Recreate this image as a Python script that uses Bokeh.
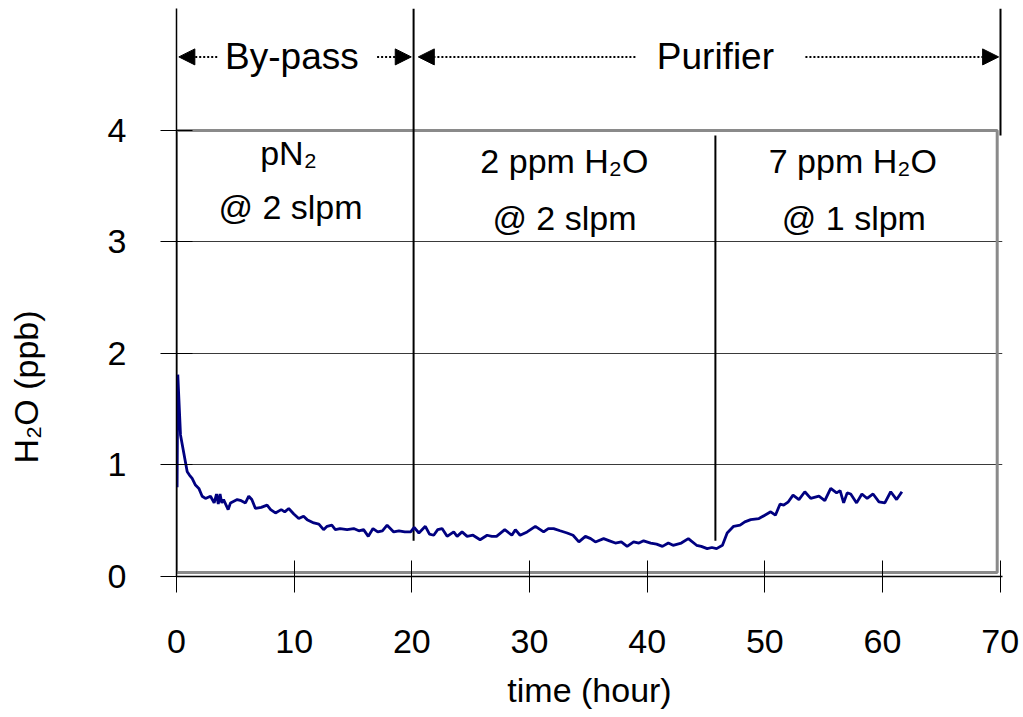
from bokeh.plotting import figure
from bokeh.models import Range1d, FixedTicker, Arrow, NormalHead, Title, ColumnDataSource
from bokeh.core.properties import value
from bokeh.embed import file_html
from bokeh.resources import INLINE

# ---------------- data ----------------
time_h = [0.05, 0.11, 0.34, 0.91, 1.1, 1.33, 1.61, 1.9, 2.18, 2.46, 2.89, 3.2, 3.4, 3.55, 3.7, 3.85,
          4.0, 4.39, 4.59, 5.16, 5.5, 5.86, 6.14, 6.4, 6.71, 7.2, 7.7, 8.0, 8.41, 8.9, 9.2, 9.54,
          9.97, 10.39, 10.8, 11.1, 11.67, 12.1, 12.5, 12.8, 13.2, 13.5, 13.9, 14.5, 15.06, 15.5,
          15.9, 16.3, 16.7, 17.1, 17.5, 17.9, 18.46, 18.9, 19.4, 19.9, 20.2, 20.6, 21.15, 21.5,
          21.86, 22.2, 22.57, 23.0, 23.56, 23.85, 24.27, 24.7, 25.2, 25.8, 26.4, 26.8, 27.2, 27.9,
          28.5, 28.8, 29.2, 29.8, 30.5, 31.2, 31.6, 32.05, 32.6, 33.2, 33.7, 34.2, 34.75, 35.2,
          35.6, 36.3, 36.8, 37.3, 37.8, 38.3, 38.85, 39.3, 39.7, 40.3, 40.8, 41.3, 41.8, 42.2,
          42.9, 43.5, 44.2, 44.6, 45.1, 45.5, 45.9, 46.4, 46.8, 47.35, 47.9, 48.3, 48.8, 49.5,
          50.0, 50.5, 50.9, 51.3, 51.6, 52.0, 52.4, 52.9, 53.4, 53.9, 54.6, 55.1, 55.6, 56.1,
          56.4, 56.7, 57.0, 57.3, 57.8, 58.25, 58.7, 59.2, 59.7, 60.2, 60.7, 61.2, 61.65]
h2o_ppb = [0.80, 1.81, 1.27, 0.94, 0.91, 0.88, 0.82, 0.79, 0.72, 0.70, 0.72, 0.66, 0.74, 0.65, 0.74, 0.66,
           0.69, 0.60, 0.66, 0.69, 0.68, 0.66, 0.72, 0.69, 0.61, 0.62, 0.64, 0.60, 0.57, 0.60, 0.58, 0.61,
           0.56, 0.52, 0.54, 0.51, 0.48, 0.47, 0.42, 0.45, 0.46, 0.42, 0.43, 0.42, 0.43, 0.41,
           0.42, 0.36, 0.43, 0.40, 0.41, 0.46, 0.40, 0.41, 0.40, 0.40, 0.44, 0.39, 0.45, 0.38,
           0.37, 0.42, 0.43, 0.36, 0.40, 0.36, 0.40, 0.36, 0.37, 0.33, 0.37, 0.36, 0.36, 0.42,
           0.37, 0.42, 0.37, 0.40, 0.45, 0.40, 0.43, 0.43, 0.41, 0.39, 0.37, 0.31, 0.36, 0.34,
           0.31, 0.34, 0.32, 0.30, 0.31, 0.27, 0.31, 0.30, 0.32, 0.30, 0.29, 0.27, 0.30, 0.28,
           0.30, 0.34, 0.28, 0.27, 0.25, 0.26, 0.25, 0.28, 0.39, 0.45, 0.46, 0.49, 0.51, 0.52,
           0.55, 0.58, 0.55, 0.65, 0.64, 0.67, 0.73, 0.69, 0.76, 0.70, 0.72, 0.68, 0.79, 0.75,
           0.77, 0.66, 0.75, 0.74, 0.66, 0.74, 0.70, 0.74, 0.67, 0.66, 0.76, 0.69, 0.76]

x_ticks = [0, 10, 20, 30, 40, 50, 60, 70]
y_ticks = [0, 1, 2, 3, 4]
grid_levels = [1, 2, 3]

# phase boundaries (hours)
bypass_end = 20.15
flow_change = 45.8
run_end = 70.03

condition_text = ["pN₂", "@ 2 slpm", "2 ppm H₂O", "@ 2 slpm", "7 ppm H₂O", "@ 1 slpm"]
condition_x = [9.52, 9.69, 32.97, 32.97, 57.48, 57.57]
condition_y = [3.794, 3.318, 3.726, 3.211, 3.726, 3.211]

phase_text = ["By-pass", "Purifier"]
phase_x = [9.81, 45.8]
phase_y = 4.66

FONT = "Liberation Sans"

X_MAX = 70.2
Y_MAX = 5.094

p = figure(frame_width=826, frame_height=568,
           x_range=Range1d(0, X_MAX), y_range=Range1d(0, Y_MAX),
           output_backend="svg", toolbar_location=None,
           min_border_left=176, min_border_top=8, min_border_right=20, min_border_bottom=100)
p.outline_line_color = None
p.background_fill_color = "white"
p.border_fill_color = "white"

# plot area box (grey)
p.quad(left=[0], right=[69.75], bottom=[0.035], top=[4.0], fill_color=None,
       line_color="#8a8a8a", line_width=3)

# grid
p.xgrid.visible = False
p.ygrid.ticker = FixedTicker(ticks=grid_levels)
p.ygrid.grid_line_color = "#3a3a3a"
p.ygrid.grid_line_width = 1

# axes
for ax in (p.xaxis[0], p.yaxis[0]):
    ax.major_tick_in = 16
    ax.major_tick_out = 16
    ax.minor_tick_in = 0
    ax.minor_tick_out = 0
    ax.major_tick_line_color = "black"
    ax.major_tick_line_width = 1
    ax.axis_line_color = "black"
    ax.axis_line_width = 1.5
    ax.major_label_text_font = FONT
    ax.major_label_text_font_size = "34px"
    ax.major_label_text_color = "black"
    ax.axis_label_text_font = FONT
    ax.axis_label_text_font_size = "34px"
    ax.axis_label_text_font_style = "normal"
    ax.axis_label_text_color = "black"

p.xaxis.ticker = FixedTicker(ticks=x_ticks)
p.yaxis.ticker = FixedTicker(ticks=y_ticks)
p.xaxis.major_label_standoff = 37
p.yaxis.major_label_standoff = 34
p.xaxis.axis_label = "time (hour)"
p.xaxis.axis_label_standoff = 15

# invisible spacer on the y axis so that the y title sits at the far left
p.yaxis.axis_label = " "
p.yaxis.axis_label_text_font_size = "1px"
p.yaxis.axis_label_standoff = 50

# y axis title (placed lower than the frame centre, like the original)
p.add_layout(Title(text="H₂O (ppb)", align="left", offset=113, vertical_align="middle",
                   text_font=FONT, text_font_size="34px", text_font_style="normal",
                   text_color="black"), "left")

# phase separator lines
p.segment(x0=[bypass_end, flow_change, run_end], y0=[0.32, 0.32, 3.955],
          x1=[bypass_end, flow_change, run_end], y1=[Y_MAX, 3.955, Y_MAX],
          line_color="black", line_width=2)

# data line
p.line(time_h, h2o_ppb, line_color="#000080", line_width=2.8)

# condition texts
src = ColumnDataSource(dict(x=condition_x, y=condition_y, t=condition_text))
p.text(x="x", y="y", text="t", source=src, text_font=value(FONT), text_font_size="34px",
       text_align="center", text_baseline="middle", text_color="black")

# phase labels
p.text(x=phase_x, y=[phase_y] * 2, text=phase_text, text_font=value(FONT), text_font_size="37px",
       text_align="center", text_baseline="middle", text_color="black")

# arrows
arrow_spans = [(3.46, 0.2), (17.05, 19.95), (39.0, 20.55), (53.45, 69.87)]
for xs, xe in arrow_spans:
    p.add_layout(Arrow(end=NormalHead(size=16, fill_color="black", line_color="black", line_width=1),
                       x_start=xs, y_start=phase_y, x_end=xe, y_end=phase_y,
                       line_color="black", line_width=2, line_dash="2 2"))

open("out.html", "w").write(file_html(p, INLINE))
